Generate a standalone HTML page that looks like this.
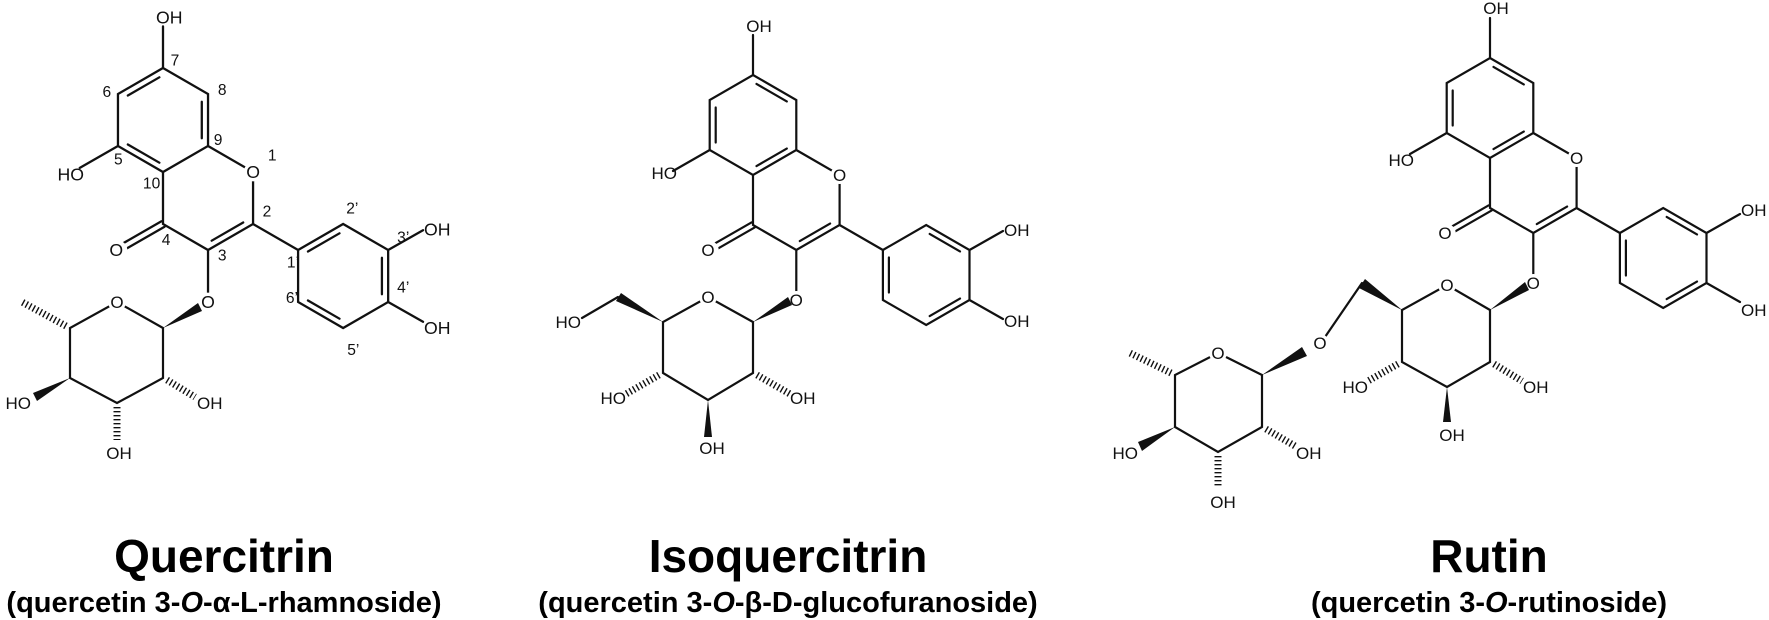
<!DOCTYPE html>
<html><head><meta charset="utf-8"><style>
html,body{margin:0;padding:0;background:#fff;}
svg{display:block;}
.b{stroke:#111;stroke-width:2.2;fill:none;stroke-linecap:round;}
.h{stroke:#111;stroke-width:7;fill:none;stroke-dasharray:1.4 2.6;}
.w{fill:#111;stroke:none;}
.l{font-family:"Liberation Sans",Arial,sans-serif;font-size:17px;fill:#111;}
.n{font-family:"Liberation Sans",Arial,sans-serif;font-size:15px;fill:#111;text-anchor:middle;}
.bg{fill:#fff;}
.t{font-family:"Liberation Sans",Arial,sans-serif;font-weight:bold;font-size:46px;fill:#000;text-anchor:middle;}
.s{font-family:"Liberation Sans",Arial,sans-serif;font-weight:bold;font-size:29px;fill:#000;text-anchor:middle;}
</style></head><body>
<svg width="1769" height="620" viewBox="0 0 1769 620" xmlns="http://www.w3.org/2000/svg">

<!-- ============ Molecule 1 core ============ -->
<g transform="translate(163,68) scale(1.04)">
<path class="b" d="M0,0 L43.3,25 L43.3,75 L0,100 L-43.3,75 L-43.3,25 Z M0,0 L0,-40 M-43.3,75 L-80,96
M43.3,75 L86.6,100 L86.6,150 L43.3,175 L0,150 L0,100 M43.3,175 L43.3,225 M86.6,150 L129.9,175
M129.9,175 L173.2,150 L216.5,175 L216.5,225 L173.2,250 L129.9,225 Z M216.5,175 L250,156 M216.5,225 L250,244
M1.5,152.6 L-36.8,174.6 M-1.5,147.4 L-39.8,169.4"/>
<path class="b" d="M-33.8,26.45 L-3.5,8.95 M37.3,32.5 L37.3,67.5 M-33.8,73.55 L-3.5,91.05 M77.1,148.55 L46.8,166.05
M139.4,176.45 L169.7,158.95 M210.5,182.5 L210.5,217.5 M169.7,241.05 L139.4,223.55"/>
<circle class="bg" cx="86.6" cy="100" r="9"/><circle class="bg" cx="-43.3" cy="175" r="9"/><circle class="bg" cx="43.3" cy="225" r="9"/>
<text class="l" x="86.6" y="106" text-anchor="middle">O</text>
<text class="l" x="-45" y="181" text-anchor="middle">O</text>
<text class="l" x="43.3" y="231" text-anchor="middle">O</text>
<text class="l" x="6" y="-43" text-anchor="middle">OH</text>
<text class="l" x="-76" y="108" text-anchor="end">HO</text>
<text class="l" x="251" y="161" text-anchor="start">OH</text>
<text class="l" x="251" y="256" text-anchor="start">OH</text>
<text class="n" x="11.5" y="-2.5">7</text><text class="n" x="-54" y="28">6</text><text class="n" x="57" y="26">8</text>
<text class="n" x="53" y="74">9</text><text class="n" x="105" y="89">1</text><text class="n" x="-43" y="93">5</text>
<text class="n" x="-11" y="116">10</text><text class="n" x="100" y="143">2</text><text class="n" x="3" y="170">4</text>
<text class="n" x="57" y="185">3</text><text class="n" x="125" y="192">1’</text><text class="n" x="182" y="140">2’</text>
<text class="n" x="231" y="168">3’</text><text class="n" x="231" y="216">4’</text><text class="n" x="124" y="226">6’</text>
<text class="n" x="183" y="276">5’</text>
</g>
<!-- Molecule 1 rhamnose -->
<path class="b" d="M163,328 L117,302 L70,328 L70,378 L117,403 L163,378 Z"/>
<polygon class="w" points="163,328 202,311 198,303"/>
<line class="h" x1="66" y1="326" x2="22" y2="302"/>
<polygon class="w" points="70,378 33,393 37,401"/>
<line class="h" x1="117" y1="407" x2="117" y2="440"/>
<line class="h" x1="167" y1="380" x2="195" y2="397"/>
<circle class="bg" cx="117" cy="302" r="9"/>
<text class="l" x="117" y="308" text-anchor="middle">O</text>
<text class="l" x="31" y="409" text-anchor="end">HO</text>
<text class="l" x="119" y="459" text-anchor="middle">OH</text>
<text class="l" x="197" y="409" text-anchor="start">OH</text>

<!-- ============ Molecule 2 core ============ -->
<g transform="translate(753,75)">
<path class="b" d="M0,0 L43.3,25 L43.3,75 L0,100 L-43.3,75 L-43.3,25 Z M0,0 L0,-40 M-43.3,75 L-80,96
M43.3,75 L86.6,100 L86.6,150 L43.3,175 L0,150 L0,100 M43.3,175 L43.3,225 M86.6,150 L129.9,175
M129.9,175 L173.2,150 L216.5,175 L216.5,225 L173.2,250 L129.9,225 Z M216.5,175 L250,156 M216.5,225 L250,244
M1.5,152.6 L-36.8,174.6 M-1.5,147.4 L-39.8,169.4"/>
<path class="b" d="M3.5,8.95 L33.8,26.45 M-37.3,32.5 L-37.3,67.5 M33.8,73.55 L3.5,91.05 M77.1,148.55 L46.8,166.05
M176.7,158.95 L207,176.45 M207,223.55 L176.7,241.05 M135.9,182.5 L135.9,217.5"/>
<circle class="bg" cx="86.6" cy="100" r="9"/><circle class="bg" cx="-43.3" cy="175" r="9"/><circle class="bg" cx="43.3" cy="225" r="9"/>
<text class="l" x="86.6" y="106" text-anchor="middle">O</text>
<text class="l" x="-45" y="181" text-anchor="middle">O</text>
<text class="l" x="43.3" y="231" text-anchor="middle">O</text>
<text class="l" x="6" y="-43" text-anchor="middle">OH</text>
<text class="l" x="-76" y="104" text-anchor="end">HO</text>
<text class="l" x="251" y="161" text-anchor="start">OH</text>
<text class="l" x="251" y="252" text-anchor="start">OH</text>
</g>
<!-- Molecule 2 glucose -->
<path class="b" d="M753,322 L708,297 L663,322 L663,373 L708,400 L753,373 Z M618,297 L582,318"/>
<polygon class="w" points="753,322 792,305 788,297"/>
<polygon class="w" points="663,322 616,301 621,293"/>
<polygon class="w" points="708,400 704,437 712,437"/>
<line class="h" x1="659" y1="375" x2="626" y2="394"/>
<line class="h" x1="757" y1="375" x2="790" y2="394"/>
<circle class="bg" cx="708" cy="297" r="9"/>
<text class="l" x="708" y="303" text-anchor="middle">O</text>
<text class="l" x="581" y="328" text-anchor="end">HO</text>
<text class="l" x="626" y="404" text-anchor="end">HO</text>
<text class="l" x="712" y="454" text-anchor="middle">OH</text>
<text class="l" x="790" y="404" text-anchor="start">OH</text>

<!-- ============ Molecule 3 core ============ -->
<g transform="translate(1490,58)">
<path class="b" d="M0,0 L43.3,25 L43.3,75 L0,100 L-43.3,75 L-43.3,25 Z M0,0 L0,-40 M-43.3,75 L-80,96
M43.3,75 L86.6,100 L86.6,150 L43.3,175 L0,150 L0,100 M43.3,175 L43.3,225 M86.6,150 L129.9,175
M129.9,175 L173.2,150 L216.5,175 L216.5,225 L173.2,250 L129.9,225 Z M216.5,175 L250,156 M216.5,225 L250,244
M1.5,152.6 L-36.8,174.6 M-1.5,147.4 L-39.8,169.4"/>
<path class="b" d="M3.5,8.95 L33.8,26.45 M-37.3,32.5 L-37.3,67.5 M33.8,73.55 L3.5,91.05 M77.1,148.55 L46.8,166.05
M176.7,158.95 L207,176.45 M207,223.55 L176.7,241.05 M135.9,182.5 L135.9,217.5"/>
<circle class="bg" cx="86.6" cy="100" r="9"/><circle class="bg" cx="-43.3" cy="175" r="9"/><circle class="bg" cx="43.3" cy="225" r="9"/>
<text class="l" x="86.6" y="106" text-anchor="middle">O</text>
<text class="l" x="-45" y="181" text-anchor="middle">O</text>
<text class="l" x="43.3" y="231" text-anchor="middle">O</text>
<text class="l" x="6" y="-44" text-anchor="middle">OH</text>
<text class="l" x="-76" y="108" text-anchor="end">HO</text>
<text class="l" x="251" y="158" text-anchor="start">OH</text>
<text class="l" x="251" y="258" text-anchor="start">OH</text>
</g>
<!-- Molecule 3 glucose -->
<path class="b" d="M1490,310 L1447,285 L1402,310 L1402,362 L1447,387 L1490,362 Z M1362,283 L1325,337"/>
<polygon class="w" points="1490,310 1529,290 1525,282"/>
<polygon class="w" points="1402,310 1359,288 1365,279"/>
<polygon class="w" points="1447,387 1443,422 1451,422"/>
<line class="h" x1="1398" y1="364" x2="1368" y2="381"/>
<line class="h" x1="1494" y1="364" x2="1522" y2="381"/>
<circle class="bg" cx="1447" cy="285" r="9"/>
<text class="l" x="1447" y="291" text-anchor="middle">O</text>
<text class="l" x="1368" y="393" text-anchor="end">HO</text>
<text class="l" x="1452" y="441" text-anchor="middle">OH</text>
<text class="l" x="1523" y="393" text-anchor="start">OH</text>
<!-- Molecule 3 rhamnose -->
<path class="b" d="M1262,375 L1218,353 L1175,375 L1175,427 L1218,452 L1262,427 Z"/>
<polygon class="w" points="1262,375 1307,356 1302,347"/>
<line class="h" x1="1171" y1="373" x2="1130" y2="353"/>
<polygon class="w" points="1175,427 1138,442 1142,451"/>
<line class="h" x1="1218" y1="456" x2="1218" y2="488"/>
<line class="h" x1="1266" y1="429" x2="1295" y2="446"/>
<circle class="bg" cx="1218" cy="353" r="9"/><circle class="bg" cx="1320" cy="343" r="9"/>
<text class="l" x="1218" y="359" text-anchor="middle">O</text>
<text class="l" x="1320" y="349" text-anchor="middle">O</text>
<text class="l" x="1138" y="459" text-anchor="end">HO</text>
<text class="l" x="1223" y="508" text-anchor="middle">OH</text>
<text class="l" x="1296" y="459" text-anchor="start">OH</text>

<!-- Titles -->
<text class="t" x="224" y="572">Quercitrin</text>
<text class="s" x="224" y="612">(quercetin 3-<tspan font-style="italic">O</tspan>-α-L-rhamnoside)</text>
<text class="t" x="788" y="572">Isoquercitrin</text>
<text class="s" x="788" y="612">(quercetin 3-<tspan font-style="italic">O</tspan>-β-D-glucofuranoside)</text>
<text class="t" x="1489" y="572">Rutin</text>
<text class="s" x="1489" y="612">(quercetin 3-<tspan font-style="italic">O</tspan>-rutinoside)</text>
</svg>
</body></html>
